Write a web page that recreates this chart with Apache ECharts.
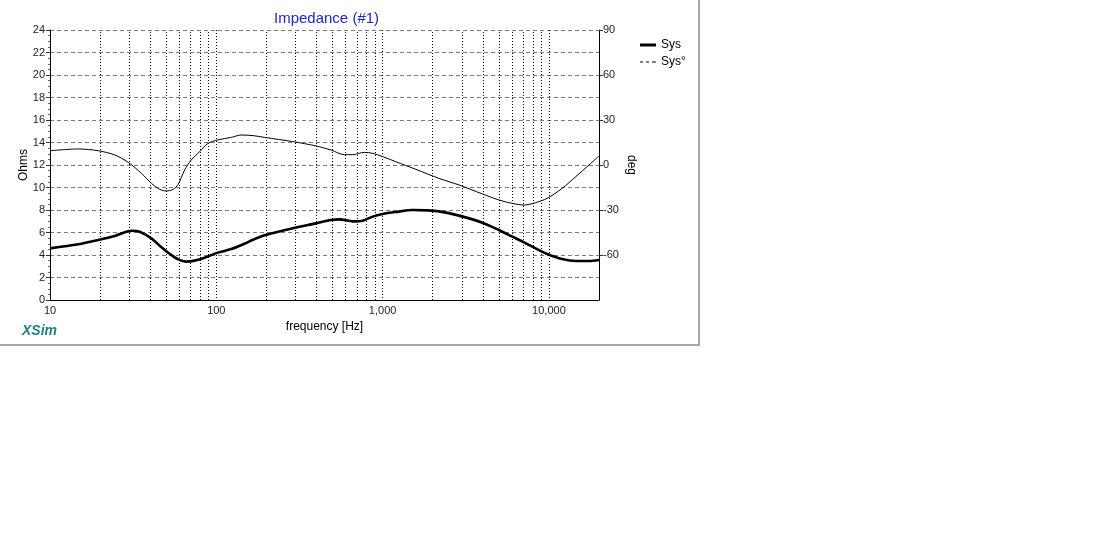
<!DOCTYPE html>
<html>
<head>
<meta charset="utf-8">
<script src="https://cdn.jsdelivr.net/npm/echarts@6/dist/echarts.min.js"></script>
<style>
html,body{margin:0;padding:0;background:#fff;}
#chart{width:1094px;height:542px;}
</style>
</head>
<body>
<div id="chart"></div>
<script>
// Impedance magnitude (Sys), ohms
const freqZ = [10, 14.8, 19.5, 24.5, 30.9, 34.6, 40.7, 46.8, 52.5, 59, 66, 74, 85, 102, 123, 147.5, 166, 195, 288, 398, 489, 549, 661, 759, 871, 1000, 1200, 1514, 1820, 2180, 2880, 3980, 5000, 6030, 7080, 8320, 9770, 12000, 14500, 17400, 20000];
const ohms = [4.59, 4.95, 5.33, 5.69, 6.16, 6.07, 5.48, 4.68, 4.09, 3.61, 3.41, 3.50, 3.76, 4.21, 4.53, 5.0, 5.35, 5.75, 6.37, 6.81, 7.11, 7.17, 6.99, 7.05, 7.41, 7.64, 7.82, 8.0, 7.97, 7.88, 7.5, 6.87, 6.22, 5.63, 5.13, 4.59, 4.09, 3.64, 3.47, 3.47, 3.56];
// Impedance phase (Sys°), degrees
const freqP = [10, 14.8, 19.5, 24.5, 29.5, 35.5, 40.7, 45.7, 50, 55, 59, 64.5, 70.6, 79.4, 89, 102, 123, 141, 166, 195, 288, 398, 489, 589, 661, 776, 871, 1000, 1200, 1585, 2180, 2880, 3980, 5000, 6030, 7080, 8320, 9770, 12000, 14500, 17400, 20000];
const degs = [9.5, 10.7, 9.5, 6.7, 1.8, -5.6, -12.2, -16.2, -17.3, -16.2, -12.9, -3.3, 3.3, 8.9, 14.4, 16.7, 18.4, 20, 19.6, 18.4, 15.6, 12.7, 10, 6.9, 6.9, 8.4, 7.8, 5.6, 2.2, -2.9, -8.9, -13.3, -19.3, -23.3, -25.6, -26.7, -25.1, -22.2, -15.6, -7.8, 0, 6];
// Minor vertical grid frequencies
const minorFreqs = [20,30,40,50,60,70,80,90,200,300,400,500,600,700,800,900,2000,3000,4000,5000,6000,7000,8000,9000];
const seriesNames = ['Sys', 'Sys°'];

const FONT = 'Liberation Sans, Arial, sans-serif';
const chart = echarts.init(document.getElementById('chart'));
chart.setOption({
  animation: false,
  backgroundColor: '#fff',
  textStyle: { fontFamily: FONT },
  title: {
    text: 'Impedance (#1)',
    left: 269, top: 6,
    textStyle: { color: '#2323c8', fontSize: 15, fontWeight: 'normal', fontFamily: FONT }
  },
  legend: {
    orient: 'vertical', left: 635, top: 34, itemGap: 5,
    itemWidth: 16, itemHeight: 12,
    textStyle: { fontSize: 12, color: '#000', fontFamily: FONT },
    data: [
      { name: seriesNames[0], icon: 'path://M0,0 L16,0 L16,3 L0,3 Z', itemStyle: { color: '#000' } },
      { name: seriesNames[1], icon: 'path://M0,0 L3,0 L3,1 L0,1 Z M6,0 L9,0 L9,1 L6,1 Z M12,0 L16,0 L16,1 L12,1 Z', itemStyle: { color: '#000' } }
    ]
  },
  grid: { left: 50, top: 30, width: 549, height: 270, containLabel: false },
  xAxis: {
    type: 'log', logBase: 10, min: 10, max: 20000,
    name: 'frequency [Hz]', nameLocation: 'middle', nameGap: 21,
    nameTextStyle: { fontSize: 12, color: '#000', fontFamily: FONT },
    axisLine: { show: true, lineStyle: { color: '#000', width: 1 } },
    axisTick: { show: false },
    axisLabel: {
      fontSize: 11, color: '#222', margin: 5, fontFamily: FONT,
      formatter: function (v) {
        const l = Math.log10(v);
        if (Math.abs(l - Math.round(l)) > 1e-6) return '';
        return Math.round(v).toLocaleString('en-US');
      }
    },
    splitLine: { show: true, lineStyle: { color: '#000', type: [1, 2], width: 1 } }
  },
  yAxis: [
    {
      type: 'value', min: 0, max: 24, interval: 2, position: 'left',
      name: 'Ohms', nameLocation: 'middle', nameGap: 20, nameRotate: 90, nameMoveOverlap: false,
      nameTextStyle: { fontSize: 12, color: '#000', fontFamily: FONT },
      axisLine: { show: true, lineStyle: { color: '#000' } },
      axisTick: { show: true, length: 4, lineStyle: { color: '#333' } },
      minorTick: { show: true, splitNumber: 4, length: 2, lineStyle: { color: '#666' } },
      axisLabel: { fontSize: 11, color: '#222', margin: 5, fontFamily: FONT },
      splitLine: { show: true, lineStyle: { color: '#7a7a7a', type: [4, 3], width: 1 } }
    },
    {
      type: 'value', min: -90, max: 90, interval: 30, position: 'right',
      name: 'deg', nameLocation: 'middle', nameGap: 26, nameRotate: -90, nameMoveOverlap: false,
      nameTextStyle: { fontSize: 12, color: '#000', fontFamily: FONT },
      axisLine: { show: true, lineStyle: { color: '#000' } },
      axisTick: { show: true, length: 4, lineStyle: { color: '#333' } },
      axisLabel: { fontSize: 11, color: '#222', margin: 4, showMinLabel: false, fontFamily: FONT },
      splitLine: { show: false }
    }
  ],
  series: [
    {
      name: seriesNames[0], type: 'line', yAxisIndex: 0, showSymbol: false, symbol: 'none',
      smooth: 0.3, z: 5,
      lineStyle: { color: '#000', width: 2.6 }, itemStyle: { color: '#000' },
      data: freqZ.map((f, i) => [f, ohms[i]]),
      markLine: {
        silent: true, symbol: 'none', label: { show: false }, animation: false,
        lineStyle: { color: '#000', type: [1, 2], width: 1 },
        data: minorFreqs.map(f => ({ xAxis: f }))
      }
    },
    {
      name: seriesNames[1], type: 'line', yAxisIndex: 1, showSymbol: false, symbol: 'none',
      smooth: 0.3, z: 4,
      lineStyle: { color: '#000', width: 1 }, itemStyle: { color: '#000' },
      data: freqP.map((f, i) => [f, degs[i]])
    }
  ],
  graphic: [
    { type: 'text', left: 22, top: 324, style: { text: 'XSim', fill: '#1a8585', font: 'italic bold 14px ' + FONT } },
    { type: 'line', shape: { x1: 699, y1: 0, x2: 699, y2: 345 }, style: { stroke: '#a8a8a8', lineWidth: 2 } },
    { type: 'line', shape: { x1: 0, y1: 345, x2: 700, y2: 345 }, style: { stroke: '#a8a8a8', lineWidth: 2 } }
  ]
});
</script>
</body>
</html>
